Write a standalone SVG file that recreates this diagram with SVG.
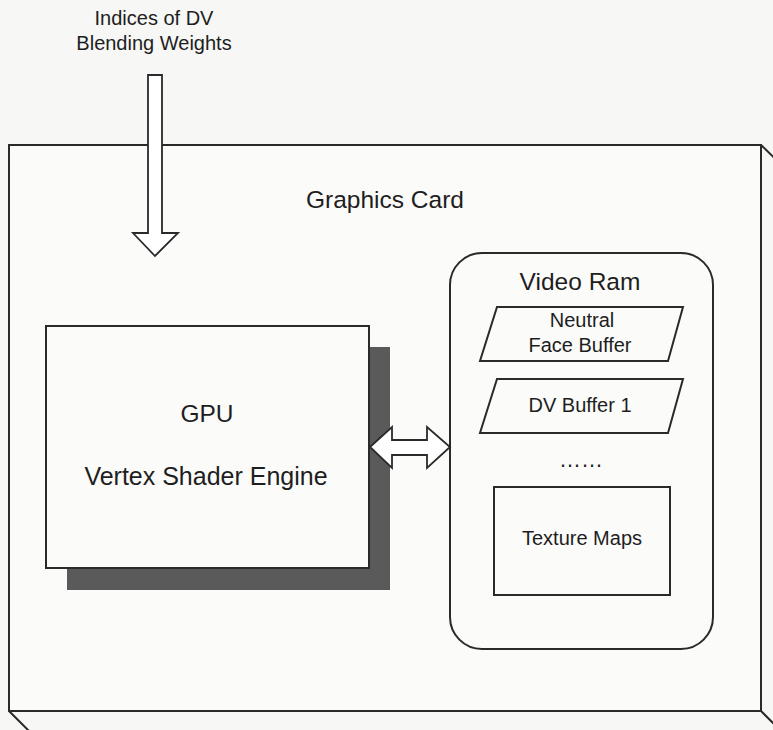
<svg xmlns="http://www.w3.org/2000/svg" width="773" height="730" viewBox="0 0 773 730">
<style>
.ln{fill:none;stroke:#2a2a2a;stroke-width:2}
.bx{fill:#fbfbfa;stroke:#2a2a2a;stroke-width:2}
.ar{fill:#ffffff;stroke:#2a2a2a;stroke-width:1.8;stroke-linejoin:miter}
text{font-family:"Liberation Sans",Arial,sans-serif;fill:#1e1e1e;text-anchor:middle}
.t20{font-size:20px}
.t24{font-size:24.5px}
</style>
<rect x="0" y="0" width="773" height="730" fill="#f7f7f5"/>
<g id="graphics-card">
<rect class="bx" x="9" y="145" width="752" height="566"/>
<path class="ln" d="M761 145 L790 173 M761 711 L790 740 M9 711 L36 738"/>
<text class="t24" x="385" y="208">Graphics Card</text>
</g>
<g id="gpu">
<rect x="67" y="347" width="323" height="243" fill="#5a5a5a"/>
<rect class="bx" x="46" y="326" width="323" height="242"/>
<text class="t24" x="207" y="422">GPU</text>
<text class="t24" x="206" y="485" style="font-size:25px">Vertex Shader Engine</text>
</g>
<g id="video-ram">
<rect class="bx" x="450" y="253" width="263" height="396" rx="32" ry="32"/>
<text class="t24" x="580" y="290">Video Ram</text>
</g>
<g id="neutral-face-buffer">
<polygon class="bx" points="497,307 683,307 668,361 480,361"/>
<text class="t20" x="582" y="327">Neutral</text>
<text class="t20" x="580" y="352">Face Buffer</text>
</g>
<g id="dv-buffer-1">
<polygon class="bx" points="497,379 683,379 668,433 480,433"/>
<text class="t20" x="580" y="412">DV Buffer 1</text>
</g>
<g id="ellipsis">
<text x="581" y="467" style="font-size:22px">……</text>
</g>
<g id="texture-maps">
<rect class="bx" x="494" y="487" width="176" height="108"/>
<text class="t20" x="582" y="545">Texture Maps</text>
</g>
<g id="input-label">
<text class="t20" x="154" y="25">Indices of DV</text>
<text class="t20" x="154" y="50">Blending Weights</text>
</g>
<g id="connectors">
<polygon class="ar" points="148,75 162,75 162,233 178,233 155,256 133,233 148,233"/>
<polygon class="ar" points="370,447 392,427 392,440 427,440 427,427 450,447 427,468 427,455 392,455 392,468"/>
</g>
</svg>
